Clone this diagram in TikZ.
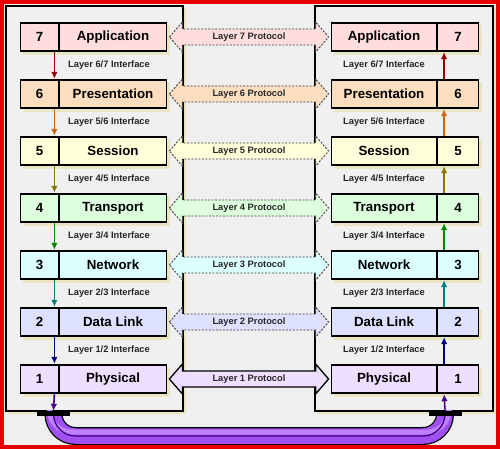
\documentclass[tikz,border=0pt]{standalone}
\usepackage{fontspec}
\setmainfont{Liberation Sans}
\usetikzlibrary{arrows.meta,calc}
\definecolor{bgc}{RGB}{239,239,239}
\definecolor{panc}{RGB}{240,240,240}
\definecolor{shad}{RGB}{232,228,196}
\definecolor{c7}{RGB}{255,221,221}
\definecolor{c6}{RGB}{252,222,190}
\definecolor{c5}{RGB}{255,255,218}
\definecolor{c4}{RGB}{222,255,222}
\definecolor{c3}{RGB}{220,255,255}
\definecolor{c2}{RGB}{221,224,255}
\definecolor{c1}{RGB}{238,222,255}
\definecolor{a7}{RGB}{153,0,0}
\definecolor{a6}{RGB}{204,102,0}
\definecolor{a5}{RGB}{140,120,0}
\definecolor{a4}{RGB}{0,136,0}
\definecolor{a3}{RGB}{0,128,128}
\definecolor{a2}{RGB}{0,0,128}
\definecolor{a1}{RGB}{68,0,136}
\definecolor{cabc}{RGB}{160,80,240}
\definecolor{cabl}{RGB}{190,130,255}
\definecolor{redb}{RGB}{230,0,0}
\begin{document}
\begin{tikzpicture}[x=1pt,y=-1pt,
  cell/.style={draw=black, line width=1.8pt, minimum height=28.5pt, inner sep=0pt,
    font=\fontsize{13.3}{15}\selectfont\bfseries},
  ilabel/.style={inner sep=0pt, text=black!85, font=\fontsize{9.3}{11}\selectfont\bfseries},
  plabel/.style={inner sep=0pt, text=black!85, font=\fontsize{9.3}{11}\selectfont\bfseries},
  proto/.style={draw=black!75, line width=0.9pt, dash pattern=on 2pt off 1.5pt},
  protosolid/.style={draw=black, line width=1.3pt},
  iarr/.style={line width=1.6pt, -{Latex[length=7pt,width=6.5pt]}},
  panel/.style={draw=black, line width=1.5pt, fill=panc},
  conn/.style={fill=black, draw=none, minimum width=33pt, minimum height=5pt, inner sep=0pt},
  cablepath/.style={rounded corners=22pt}
]
\useasboundingbox (0,0) rectangle (500,449);
\fill[bgc] (0,0) rectangle (500,449);
% panels
\fill[shad] (8,8) rectangle (186,414);
\fill[shad] (317,8) rectangle (496,414);
\draw[panel] (6,6) rectangle (183,411);
\draw[panel] (315,6) rectangle (493,411);

% layer boxes
\foreach \i/\nm/\c in {7/Application/c7,6/Presentation/c6,5/Session/c5,4/Transport/c4,3/Network/c3,2/Data Link/c2,1/Physical/c1}{
  \pgfmathsetmacro{\yy}{37+57*(7-\i)}
  \fill[shad] (23,\yy-12) rectangle (170,\yy+18);
  \fill[shad] (334,\yy-12) rectangle (482,\yy+18);
  \node[cell, minimum width=38pt, fill=\c] (Ln\i) at (39.5,\yy) {\i};
  \node[cell, minimum width=107pt, fill=\c] (Lt\i) at (113,\yy) {\nm};
  \node[cell, minimum width=105pt, fill=\c] (Rt\i) at (384,\yy) {\nm};
  \node[cell, minimum width=41pt, fill=\c] (Rn\i) at (458,\yy) {\i};
}

% protocol arrows
\foreach \i/\c/\st in {7/c7/proto,6/c6/proto,5/c5/proto,4/c4/proto,3/c3/proto,2/c2/proto,1/c1/protosolid}{
  \coordinate (pa\i) at ($(Lt\i.east)+(2,0)$);
  \coordinate (pb\i) at ($(Rt\i.west)+(-2,0)$);
  \draw[\st, fill=\c] (pa\i) -- ++(13,-15) -- ++(0,7) -- ($(pb\i)+(-13,-8)$) -- ++(0,-7)
     -- (pb\i) -- ++(-13,15) -- ++(0,-7) -- ($(pa\i)+(13,8)$) -- ++(0,7) -- cycle;
  \node[plabel] (P\i) at ($(pa\i)!0.5!(pb\i)$) {Layer \i{} Protocol};
}

% interface arrows and labels
\foreach \i/\j/\c in {7/6/a7,6/5/a6,5/4/a5,4/3/a4,3/2/a3,2/1/a2}{
  \draw[iarr, draw=\c] ([xshift=-5pt]Ln\i.south east) -- ([xshift=-5pt]Ln\j.north east);
  \draw[iarr, draw=\c] ([xshift=7.5pt]Rn\j.north west) -- ([xshift=7.5pt]Rn\i.south west);
  \node[ilabel] (LI\i) at ($(Lt\i.south)!0.5!(Lt\j.north)+(-4,0)$) {Layer \j/\i{} Interface};
  \node[ilabel] (RI\i) at ($(Rt\i.south)!0.5!(Rt\j.north)$) {Layer \j/\i{} Interface};
}

% cable
\node[conn] (lconn) at (53.5,413.5) {};
\node[conn] (rconn) at (445,413.5) {};
\draw[black, line width=18pt, cablepath] (lconn.center) |- ($(rconn.center)+(0,22.5)$) -- (rconn.center);
\draw[cabc, line width=15.5pt, cablepath] (lconn.center) |- ($(rconn.center)+(0,22.5)$) -- (rconn.center);
\draw[cabl, line width=5pt, cablepath] ([xshift=-4pt]lconn.center) |- ($(rconn.center)+(4,18.5)$) -- ([xshift=4pt]rconn.center);
\draw[a1, line width=1.3pt, cablepath] (lconn.center) |- ($(rconn.center)+(0,22.5)$) -- (rconn.center);
\node[conn] at (lconn) {};
\node[conn] at (rconn) {};
\draw[iarr, draw=a1] ([xshift=-5pt]Ln1.south east) -- (lconn.north);
\draw[iarr, draw=a1] (rconn.north) -- ([xshift=7.5pt]Rn1.south west);

% outer red frame
\draw[redb, line width=4pt] (2,2) rectangle (498,447);
\end{tikzpicture}
\end{document}
